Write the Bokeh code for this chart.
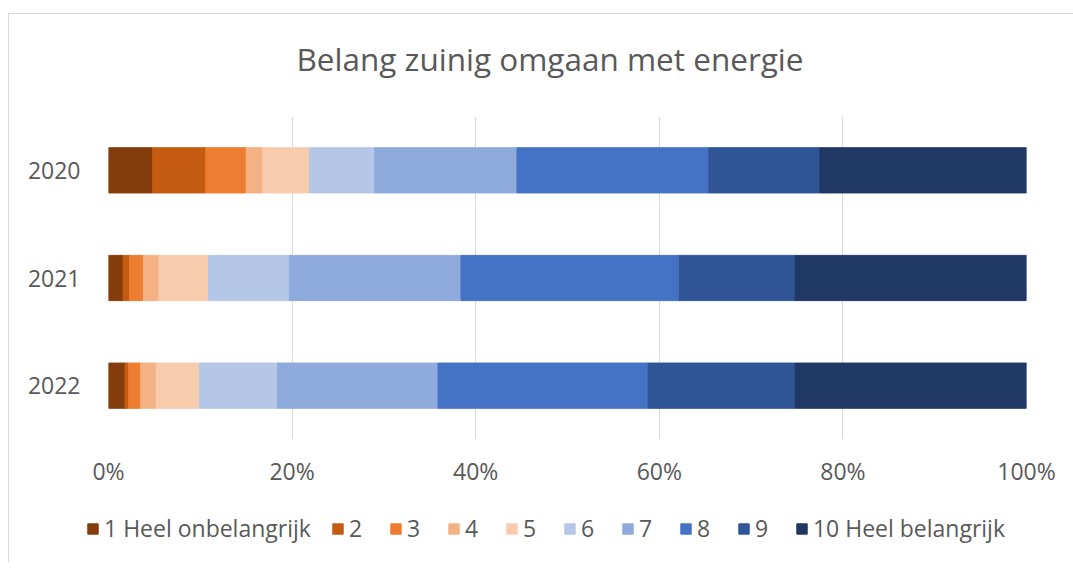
from bokeh.plotting import figure
from bokeh.layouts import column, row
from bokeh.models import ColumnDataSource, FactorRange, Range1d, NumeralTickFormatter, Legend, LegendItem, Label
from bokeh.embed import file_html
from bokeh.resources import INLINE

years = ["2020", "2021", "2022"]
labels = ["1 Heel onbelangrijk", "2", "3", "4", "5", "6", "7", "8", "9", "10 Heel belangrijk"]
keys = ["s1", "s2", "s3", "s4", "s5", "s6", "s7", "s8", "s9", "s10"]
# percentages per answer category, per year (2020, 2021, 2022)
s1 = [4.8, 1.6, 1.8]
s2 = [5.8, 0.7, 0.4]
s3 = [4.4, 1.5, 1.3]
s4 = [1.8, 1.7, 1.7]
s5 = [5.1, 5.4, 4.7]
s6 = [7.1, 8.8, 8.5]
s7 = [15.5, 18.7, 17.5]
s8 = [20.9, 23.8, 22.9]
s9 = [12.1, 12.6, 16.0]
s10 = [22.5, 25.2, 25.2]
colors = ["#843C0C", "#C55A11", "#ED7D31", "#F4B183", "#F8CBAD",
          "#B4C7E7", "#8FAADC", "#4472C4", "#2F5597", "#203864"]
title_text = "Belang zuinig omgaan met energie"

series = [s1, s2, s3, s4, s5, s6, s7, s8, s9, s10]
data = {"year": years}
for k, s in zip(keys, series):
    data[k] = [v / 100.0 for v in s]
source = ColumnDataSource(data)

FONT = "Open Sans"
TXT = "#595959"
FS = "23px"


def strip(h):
    f = figure(width=1064, height=h, x_range=Range1d(0, 1), y_range=Range1d(0, 1),
               output_backend="svg", toolbar_location=None, title=None,
               min_border=0, min_border_left=0, min_border_right=0,
               min_border_top=0, min_border_bottom=0)
    f.axis.visible = False
    f.grid.grid_line_color = None
    f.outline_line_color = None
    return f


# title strip
pt = strip(102)
pt.add_layout(Label(x=0.508, y=0.569, text=title_text, text_align="center",
                    text_baseline="middle", text_font=FONT,
                    text_font_size="31.5px", text_color=TXT))

# main chart
p = figure(width=1064, height=374, title=None,
           y_range=FactorRange(factors=years[::-1], range_padding=0),
           x_range=Range1d(0, 1),
           output_backend="svg", toolbar_location=None,
           min_border_left=99, min_border_right=47,
           min_border_top=0, min_border_bottom=51)
p.outline_line_color = None
p.background_fill_color = "white"
p.border_fill_color = "white"

renderers = p.hbar_stack(keys, y="year", height=0.42, color=colors, source=source)

p.xaxis.formatter = NumeralTickFormatter(format="0%")
p.xaxis.ticker = [0, 0.2, 0.4, 0.6, 0.8, 1.0]
p.xaxis.axis_line_color = None
p.xaxis.major_tick_line_color = None
p.xaxis.minor_tick_line_color = None
p.xaxis.major_label_text_font = FONT
p.xaxis.major_label_text_font_size = FS
p.xaxis.major_label_text_color = TXT
p.xaxis.major_label_standoff = 9

p.yaxis.axis_line_color = None
p.yaxis.major_tick_line_color = None
p.yaxis.minor_tick_line_color = None
p.yaxis.major_label_text_font = FONT
p.yaxis.major_label_text_font_size = FS
p.yaxis.major_label_text_color = TXT
p.yaxis.major_label_standoff = 22

p.xgrid.grid_line_color = "#d9d9d9"
p.xgrid.grid_line_width = 1
p.ygrid.grid_line_color = None

# legend strip below the chart: legend-only glyphs in the series colours
pl = strip(72)
nan = float("nan")
lrenderers = [pl.hbar(y=[nan], left=[nan], right=[nan], height=0.5, color=c) for c in colors]

items = [LegendItem(label=l, renderers=[r]) for l, r in zip(labels, lrenderers)]
legend = Legend(items=items, orientation="horizontal", location=(77, 18),
                glyph_width=13, glyph_height=13, label_standoff=5, spacing=20,
                padding=0, margin=0, border_line_color=None,
                background_fill_alpha=0,
                label_text_font=FONT, label_text_font_size=FS,
                label_text_color=TXT)
pl.add_layout(legend, "center")

layout = column(row(pt), p, row(pl), spacing=0,
                styles={"margin": "13px 0 0 8px",
                        "border-left": "1px solid #d9d9d9",
                        "border-top": "1px solid #d9d9d9"})

open("out.html", "w").write(file_html(layout, INLINE))
